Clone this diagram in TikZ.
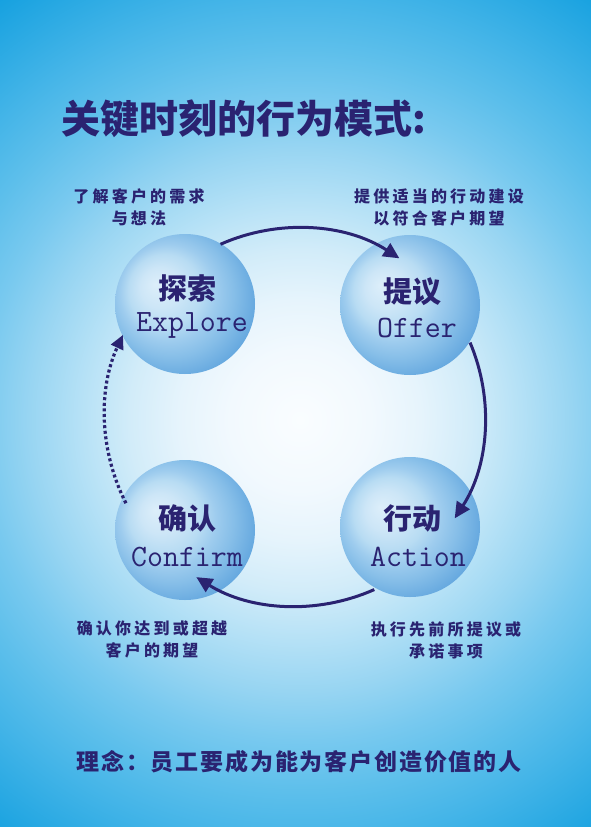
\documentclass[tikz,border=0pt]{standalone}
\usepackage{fontspec}
\newfontfamily\cjk{Noto Sans CJK SC}
\newfontfamily\cjkls{Noto Sans CJK SC}[LetterSpace=20]
\newfontfamily\cjkbt{Noto Sans CJK SC}[LetterSpace=8]
\usetikzlibrary{arrows.meta,calc}
\definecolor{navy}{HTML}{2A2371}
\definecolor{bg0}{HTML}{FAFDFF}
\definecolor{bg1}{HTML}{F2F9FE}
\definecolor{bg2}{HTML}{E6F4FC}
\definecolor{bg3}{HTML}{D2ECF9}
\definecolor{bg4}{HTML}{B5E1F6}
\definecolor{bg5}{HTML}{98D5F2}
\definecolor{bg6}{HTML}{78C9EF}
\definecolor{bg7}{HTML}{5DBFEB}
\definecolor{bg8}{HTML}{45B5E8}
\definecolor{bg9}{HTML}{14A0DF}
\definecolor{sp0}{HTML}{DCEEFA}
\definecolor{sp1}{HTML}{CDE6F7}
\definecolor{sp2}{HTML}{B8DCF3}
\definecolor{sp3}{HTML}{9ECCEE}
\definecolor{sp4}{HTML}{86BEE8}
\definecolor{sp5}{HTML}{65A8DF}
\definecolor{sp6}{HTML}{4C9AD8}
\definecolor{sp7}{HTML}{3E90D2}
\definecolor{sp8}{HTML}{3A8CCF}
\pgfdeclareradialshading{bgshade}{\pgfpoint{0bp}{0bp}}{color(0bp)=(bg0); color(70bp)=(bg1); color(120bp)=(bg2); color(170bp)=(bg3); color(220bp)=(bg4); color(270bp)=(bg5); color(320bp)=(bg6); color(370bp)=(bg7); color(420bp)=(bg8); color(520bp)=(bg9)}
\pgfdeclareradialshading{sph}{\pgfpoint{-30bp}{20bp}}{color(0bp)=(sp0); color(20bp)=(sp1); color(36bp)=(sp2); color(48bp)=(sp3); color(62bp)=(sp4); color(80bp)=(sp5); color(96bp)=(sp6); color(104bp)=(sp7); color(112bp)=(sp8)}
\tikzset{
  sphere/.style={circle, minimum size=140pt, inner sep=0pt,
    path picture={\node[inner sep=0pt, outer sep=0pt] at (path picture bounding box.center) {\pgfuseshading{sph}};}},
  cname/.style={text=navy, font=\cjk\bfseries\fontsize{29}{32}\selectfont, inner sep=0pt},
  ename/.style={text=navy, font=\ttfamily\fontsize{31}{34}\selectfont, inner sep=0pt},
  lbl/.style={text=navy, font=\cjkls\bfseries\fontsize{16}{22}\selectfont, align=center, inner sep=0pt},
  arr/.style={draw=navy, line width=3pt, -{Triangle[length=16pt,width=15pt]}},
  dotarr/.style={draw=navy, line width=3.2pt, dash pattern=on 3pt off 2.6pt, -{Triangle[length=14pt,width=13pt]}},
}
\begin{document}
\begin{tikzpicture}[x=1pt,y=-1pt]
\useasboundingbox (0,0) rectangle (591,827);
\begin{scope}
\clip (0,0) rectangle (591,827);
\node[inner sep=0pt, outer sep=0pt] (bg) at (300,420) {\pgfuseshading{bgshade}};
\end{scope}

% title
\node[anchor=west, text=navy, font=\cjk\bfseries\fontsize{39}{44}\selectfont, inner sep=0pt] (title) at (61,119) {关键时刻的行为模式:};

% spheres
\node[sphere] (explore) at (185,304) {};
\node[sphere] (offer) at (410,305) {};
\node[sphere] (confirm) at (185,530) {};
\node[sphere] (action) at (410,527) {};

\node[cname] (exploreC) at ($(explore)+(2,-16)$) {探索};
\node[ename] (exploreE) at ($(explore)+(7,21)$) {Explore};
\node[cname] (offerC) at ($(offer)+(2,-13)$) {提议};
\node[ename] (offerE) at ($(offer)+(7,23)$) {Offer};
\node[cname] (confirmC) at ($(confirm)+(2,-12)$) {确认};
\node[ename] (confirmE) at ($(confirm)+(2,27)$) {Confirm};
\node[cname] (actionC) at ($(action)+(2,-9)$) {行动};
\node[ename] (actionE) at ($(action)+(8,30)$) {Action};

% labels
\node[lbl] (l1) at (139,207) {了解客户的需求\\与想法};
\node[lbl] (l2) at (439,207) {提供适当的行动建设\\以符合客户期望};
\node[lbl] (l3) at (152,639) {确认你达到或超越\\客户的期望};
\node[lbl] (l4) at (446,640) {执行先前所提议或\\承诺事项};

% cycle arrows
\coordinate (C) at (297,416);
\coordinate (a1s) at ($(C)+(-114:188)$);
\coordinate (a2s) at ($(C)+(-23:188)$);
\coordinate (a3s) at ($(C)+(66:190)$);
\coordinate (a4s) at ($(C)+(-207:192)$);
\draw[arr] (a1s) arc[start angle=-114, end angle=-57, radius=188];
\draw[arr] (a2s) arc[start angle=-23, end angle=33, radius=188];
\draw[arr] (a3s) arc[start angle=66, end angle=122, radius=190];
\draw[dotarr] (a4s) arc[start angle=-207, end angle=-155, radius=192];

% motto
\node[text=navy, font=\cjkbt\bfseries\fontsize{23}{26}\selectfont, inner sep=0pt] (motto) at (299,762) {理念：员工要成为能为客户创造价值的人};
\end{tikzpicture}
\end{document}
